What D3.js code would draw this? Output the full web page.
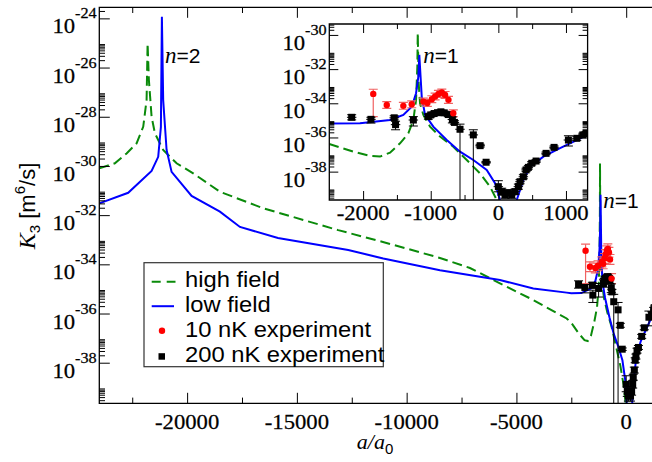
<!DOCTYPE html>
<html><head><meta charset="utf-8">
<script src="https://cdn.jsdelivr.net/npm/d3@7/dist/d3.min.js"></script>
<style>
html,body{margin:0;padding:0;background:#fff;}
svg{display:block;}
.serif{font-family:"Liberation Serif","Times New Roman",Times,serif;}
.sans{font-family:"Liberation Sans",Arial,Helvetica,sans-serif;}
.ticklab{stroke:#000;stroke-width:0.25px;}
</style></head>
<body>
<svg id="chart" width="652" height="462"></svg>
<script>
// Three-body recombination rate K3 versus scattering length a/a0.
// Theory curves: a/a0 and log10(K3 / m^6 s^-1).
const highFieldA = [-24000,-23291,-22757,-22302,-22000,-21846,-21800,-21741,-21618,-21468,-21090,-20479,-19723,-18506,-16534,-13117,-11080,-8483,-7117,-5750,-4233,-2711,-2500,-2145,-1898,-1750,-1602,-1454,-1331,-1257,-1217,-1198,-1192,-1178,-1158,-1109,-1010,-862,-666,-467,-271,-123,-24,60];
const highFieldLogK3 = [-30.10,-29.89,-29.49,-29.08,-28.41,-27.32,-25.02,-26.51,-28.00,-28.67,-29.35,-29.89,-30.30,-31.05,-31.72,-32.61,-33.09,-33.74,-34.15,-34.77,-35.45,-36.20,-36.38,-36.83,-37.08,-37.12,-36.89,-36.34,-35.76,-34.98,-33.81,-31.86,-29.90,-32.83,-34.00,-34.68,-35.37,-35.95,-36.54,-37.32,-38.10,-38.88,-39.66,-41.0];

const lowFieldA = [-24000,-22684,-21618,-21317,-21194,-21149,-21090,-20935,-20707,-19796,-18506,-17593,-15862,-12661,-11066,-8483,-5750,-4233,-2711,-2500,-2046,-1602,-1405,-1281,-1217,-1183,-1169,-1133,-1084,-962,-763,-567,-370,-172,-49,25,140,272,370,469,666,913,1160,1320];
const lowFieldLogK3 = [-31.52,-31.09,-30.20,-29.63,-28.41,-23.93,-27.32,-29.35,-30.24,-31.22,-31.86,-32.48,-32.93,-33.42,-33.76,-34.24,-34.64,-34.98,-35.15,-35.18,-35.17,-34.98,-34.68,-34.20,-33.41,-32.44,-31.17,-33.61,-34.68,-35.37,-36.15,-36.83,-37.32,-37.90,-38.68,-39.66,-41.0,-39.66,-38.49,-37.71,-37.12,-36.63,-36.15,-35.85];

// 10 nK measurements (log10 K3 with error in decades)
const exp10nkA = [-1850,-1650,-1405,-1281,-1109,-1050,-984,-935,-886,-836,-788,-738,-666];
const exp10nkLogK3 = [-33.45,-34.10,-34.15,-34.06,-33.90,-33.98,-33.76,-33.60,-33.45,-33.37,-33.51,-33.80,-34.58];
const exp10nkErrUp = [0.27,0.2,0.2,0.2,0.2,0.2,0.2,0.2,0.2,0.2,0.2,0.2,0.2];
const exp10nkErrDown = [1.33,0.2,0.2,0.2,0.2,0.2,0.2,0.2,0.2,0.2,0.2,0.2,0.2];

// 200 nK measurements
const exp200nkA = [-2169,-1884,-1540,-1520,-1257,-1035,-1000,-950,-900,-850,-800,-740,-680,-650,-567,-370,-269,-181,0,50,99,148,198,247,296,321,370,410,444,494,558,706,824,1036,1160,1249,1297];
const exp200nkLogK3 = [-34.82,-34.94,-34.85,-35.25,-34.98,-34.78,-34.68,-34.60,-34.55,-34.50,-34.56,-34.66,-34.95,-35.12,-35.52,-35.85,-36.48,-37.45,-38.88,-39.17,-39.36,-39.23,-39.36,-39.17,-38.88,-38.59,-38.30,-37.90,-37.75,-37.51,-37.38,-36.93,-36.58,-36.15,-36.05,-35.85,-35.76];
const exp200nkErrUp = [0.15,0.12,0.12,0.2,0.2,0.15,0.1,0.1,0.1,0.1,0.1,0.1,0.15,0.1,0.3,0.3,0.08,0.05,0.35,0.2,0.2,0.15,0.15,0.15,0.15,0.12,0.12,0.1,0.1,0.1,0.08,0.08,0.08,0.25,0.12,0.1,0.1];
const exp200nkErrDown = [0.15,0.22,0.12,0.3,0.35,0.15,0.12,0.1,0.1,0.1,0.1,0.12,0.2,0.1,8,8,0.08,0.05,0.3,0.2,0.2,0.2,0.2,0.15,0.15,0.12,0.12,0.1,0.1,0.1,0.08,0.08,0.08,0.35,0.12,0.1,0.1];
const exp200nkErrA = 70;

// Tick values
const mainXMajor = [-20000,-15000,-10000,-5000,0];
const mainXMinor = [-22500,-17500,-12500,-7500,-2500];
const mainYExponents = [-24,-26,-28,-30,-32,-34,-36,-38];
const insetXMajor = [-2000,-1000,0,1000];
const insetXMinor = [-1500,-500,500];
const insetYExponents = [-30,-32,-34,-36,-38];
const legendLabels = ["high field","low field","10 nK experiment","200 nK experiment"];

const GREEN = "#0a8a0a", BLUE = "#0000ff", RED = "#ff0000", RED_BAR = "#f06262";
const SX = 1.08; // horizontal stretch applied to tick-label glyphs

const svg = d3.select("#chart");
const defs = svg.append("defs");

const pow10 = v => Math.pow(10, v);
const zip = (a, b) => a.map((v, i) => [v, b[i]]);

function minorLogTicks(domain) {
  const lo = Math.log10(domain[0]), hi = Math.log10(domain[1]);
  const out = [];
  for (let e = -40; e <= -22; e += 2)
    for (let k = 2; k <= 9; k++) {
      const v = k * pow10(e), lv = Math.log10(v);
      if (lv > lo && lv < hi) out.push(v);
    }
  return out;
}

function stretched(parent, x, y, anchor) {
  return parent.append("text")
    .attr("transform", `translate(${x},${y}) scale(${SX},1)`)
    .attr("text-anchor", anchor);
}

function drawPanel(o) {
  const {x, y, id} = o;
  const [x0, x1] = x.range();
  const [yb, yt] = y.range();
  const g = svg.append("g");

  if (o.background) g.append("rect").attr("x", x0).attr("y", yt)
    .attr("width", x1 - x0).attr("height", yb - yt).attr("fill", "#fff");

  defs.append("clipPath").attr("id", id).append("rect")
    .attr("x", x0).attr("y", yt).attr("width", x1 - x0).attr("height", yb - yt);
  const plot = g.append("g").attr("clip-path", `url(#${id})`);

  const line = d3.line().x(d => x(d[0])).y(d => y(pow10(d[1])));
  plot.append("path").datum(zip(highFieldA, highFieldLogK3))
    .attr("d", line).attr("fill", "none").attr("stroke", GREEN)
    .attr("stroke-width", 2).attr("stroke-dasharray", "10,5");
  plot.append("path").datum(zip(lowFieldA, lowFieldLogK3))
    .attr("d", line).attr("fill", "none").attr("stroke", BLUE)
    .attr("stroke-width", 2);

  const cap = 4.5;
  // 10 nK points
  exp10nkA.forEach((a, i) => {
    const cx = x(a), v = exp10nkLogK3[i];
    const yTop = y(pow10(v + exp10nkErrUp[i])), yBot = y(pow10(v - exp10nkErrDown[i]));
    const eb = plot.append("g").attr("stroke", RED_BAR).attr("stroke-width", 1.2);
    eb.append("line").attr("x1", cx).attr("x2", cx).attr("y1", yTop).attr("y2", yBot);
    eb.append("line").attr("x1", cx - cap).attr("x2", cx + cap).attr("y1", yTop).attr("y2", yTop);
    eb.append("line").attr("x1", cx - cap).attr("x2", cx + cap).attr("y1", yBot).attr("y2", yBot);
  });
  exp10nkA.forEach((a, i) => {
    g.append("circle").attr("cx", x(a)).attr("cy", y(pow10(exp10nkLogK3[i])))
      .attr("r", 3.2).attr("fill", RED);
  });
  // 200 nK points
  exp200nkA.forEach((a, i) => {
    const cx = x(a), v = exp200nkLogK3[i], cy = y(pow10(v));
    const yTop = y(pow10(v + exp200nkErrUp[i])), yBot = y(pow10(v - exp200nkErrDown[i]));
    const eb = plot.append("g").attr("stroke", "#000").attr("stroke-width", 1);
    eb.append("line").attr("x1", cx).attr("x2", cx).attr("y1", yTop).attr("y2", yBot);
    eb.append("line").attr("x1", cx - cap).attr("x2", cx + cap).attr("y1", yTop).attr("y2", yTop);
    eb.append("line").attr("x1", cx - cap).attr("x2", cx + cap).attr("y1", yBot).attr("y2", yBot);
    eb.append("line").attr("x1", x(a - exp200nkErrA)).attr("x2", x(a + exp200nkErrA))
      .attr("y1", cy).attr("y2", cy);
  });
  exp200nkA.forEach((a, i) => {
    const cx = x(a), cy = y(pow10(exp200nkLogK3[i]));
    plot.append("rect").attr("x", cx - 3.5).attr("y", cy - 3.5)
      .attr("width", 7).attr("height", 7).attr("fill", "#000");
  });

  // Inward ticks
  const yMajor = o.yExponents.map(pow10);
  const yMinor = minorLogTicks(y.domain());
  const tickStyle = s => s.call(a => a.select(".domain").remove())
    .call(a => a.selectAll(".tick line").attr("stroke", "#000").attr("stroke-width", 1));
  const add = (axis, tr) => g.append("g").attr("transform", tr).call(axis).call(tickStyle);
  const L = o.majorLen, l = o.minorLen;
  add(d3.axisBottom(x).tickValues(o.xMajor).tickSize(-L).tickFormat(""), `translate(0,${yb})`);
  add(d3.axisBottom(x).tickValues(o.xMinor).tickSize(-l).tickFormat(""), `translate(0,${yb})`);
  add(d3.axisTop(x).tickValues(o.xMajor).tickSize(-L).tickFormat(""), `translate(0,${yt})`);
  add(d3.axisTop(x).tickValues(o.xMinor).tickSize(-l).tickFormat(""), `translate(0,${yt})`);
  add(d3.axisLeft(y).tickValues(yMajor).tickSize(-L).tickFormat(""), `translate(${x0},0)`);
  add(d3.axisLeft(y).tickValues(yMinor).tickSize(-l).tickFormat(""), `translate(${x0},0)`);
  if (o.rightTicks) {
    add(d3.axisRight(y).tickValues(yMajor).tickSize(-L).tickFormat(""), `translate(${x1},0)`);
    add(d3.axisRight(y).tickValues(yMinor).tickSize(-l).tickFormat(""), `translate(${x1},0)`);
  }

  // Frame
  g.append("path")
    .attr("d", o.rightTicks
      ? `M${x0},${yt}H${x1}V${yb}H${x0}Z`
      : `M${x1},${yt}H${x0}V${yb}H${x1}`)
    .attr("fill", "none").attr("stroke", "#000").attr("stroke-width", 1.3);

  // Tick labels
  o.xMajor.forEach(v => {
    stretched(g, x(v), yb + o.xLabelGap, "middle")
      .attr("class", "serif ticklab").style("font-size", "21px")
      .text(String(v));
  });
  o.yExponents.forEach(e => {
    const t = stretched(g, x0 - 2.6, y(pow10(e)) + 15, "end")
      .attr("class", "serif ticklab").style("font-size", "21px");
    t.append("tspan").text("10");
    t.append("tspan").attr("dy", -15).style("font-size", "15px").text(String(e));
  });
  return g;
}

function resonanceLabel(parent, px, py, n) {
  const t = parent.append("text").attr("x", px).attr("y", py);
  t.append("tspan").attr("class", "serif").style("font-style", "italic")
    .style("font-size", "23px").text("n");
  t.append("tspan").attr("class", "sans").style("font-size", "21px")
    .text("=" + n);
}

// Main panel
const xMain = d3.scaleLinear().domain([-24000, 1540]).range([99.3, 660]);
const yMain = d3.scaleLog().domain([pow10(-39.65), pow10(-23.55)]).range([403.3, 7.3]);
const gMain = drawPanel({x: xMain, y: yMain, id: "clipMain", majorLen: 10.5, minorLen: 5.7,
  xMajor: mainXMajor, xMinor: mainXMinor, yExponents: mainYExponents,
  xLabelGap: 25.2, rightTicks: false});

resonanceLabel(gMain, 165, 63.3, 2);
resonanceLabel(gMain, 603.3, 208.3, 1);

// Axis titles
const xt = svg.append("text").attr("x", 375).attr("y", 449).attr("text-anchor", "middle");
xt.append("tspan").attr("class", "serif").style("font-style", "italic")
  .style("font-size", "22px").text("a/a");
xt.append("tspan").attr("dy", 5).attr("class", "sans").style("font-size", "15px").text("0");

const yt = svg.append("text").attr("transform", "translate(35,206) rotate(-90)")
  .attr("text-anchor", "middle");
yt.append("tspan").attr("class", "serif").style("font-style", "italic")
  .style("font-size", "24px").text("K");
yt.append("tspan").attr("dy", 5).attr("class", "sans").style("font-size", "15px").text("3");
yt.append("tspan").attr("dy", -5).attr("class", "sans").style("font-size", "22px").text(" [m");
yt.append("tspan").attr("dy", -10).attr("class", "sans").style("font-size", "15px").text("6");
yt.append("tspan").attr("dy", 10).attr("class", "sans").style("font-size", "22px").text("/s]");

// Legend
const lg = svg.append("g");
lg.append("rect").attr("x", 144).attr("y", 262.7).attr("width", 239.3).attr("height", 104)
  .attr("fill", "#fff").attr("stroke", "#333").attr("stroke-width", 1.2);
const rowBase = [286.7, 312.2, 337.3, 361.7];
legendLabels.forEach((lab, i) => {
  stretched(lg, 185, rowBase[i], "start")
    .attr("class", "sans").style("font-size", "22px").text(lab);
});
lg.append("line").attr("x1", 151.7).attr("x2", 175.5).attr("y1", rowBase[0] - 5).attr("y2", rowBase[0] - 5)
  .attr("stroke", GREEN).attr("stroke-width", 2).attr("stroke-dasharray", "9,6");
lg.append("line").attr("x1", 151.7).attr("x2", 174).attr("y1", rowBase[1] - 6).attr("y2", rowBase[1] - 6)
  .attr("stroke", BLUE).attr("stroke-width", 2);
lg.append("circle").attr("cx", 162).attr("cy", rowBase[2] - 6.5).attr("r", 3.2).attr("fill", RED);
lg.append("rect").attr("x", 158.5).attr("y", rowBase[3] - 8.5).attr("width", 6.5).attr("height", 6.5).attr("fill", "#000");

// Inset panel
const xInset = d3.scaleLinear().domain([-2500, 1320]).range([329.3, 587.6]);
const yInset = d3.scaleLog().domain([pow10(-39.66), pow10(-29.36)]).range([200, 24]);
const gInset = drawPanel({x: xInset, y: yInset, id: "clipInset", majorLen: 9, minorLen: 5,
  xMajor: insetXMajor, xMinor: insetXMinor, yExponents: insetYExponents,
  xLabelGap: 20, rightTicks: true, background: true});
resonanceLabel(gInset, 423.3, 63.3, 1);
</script>
</body></html>
